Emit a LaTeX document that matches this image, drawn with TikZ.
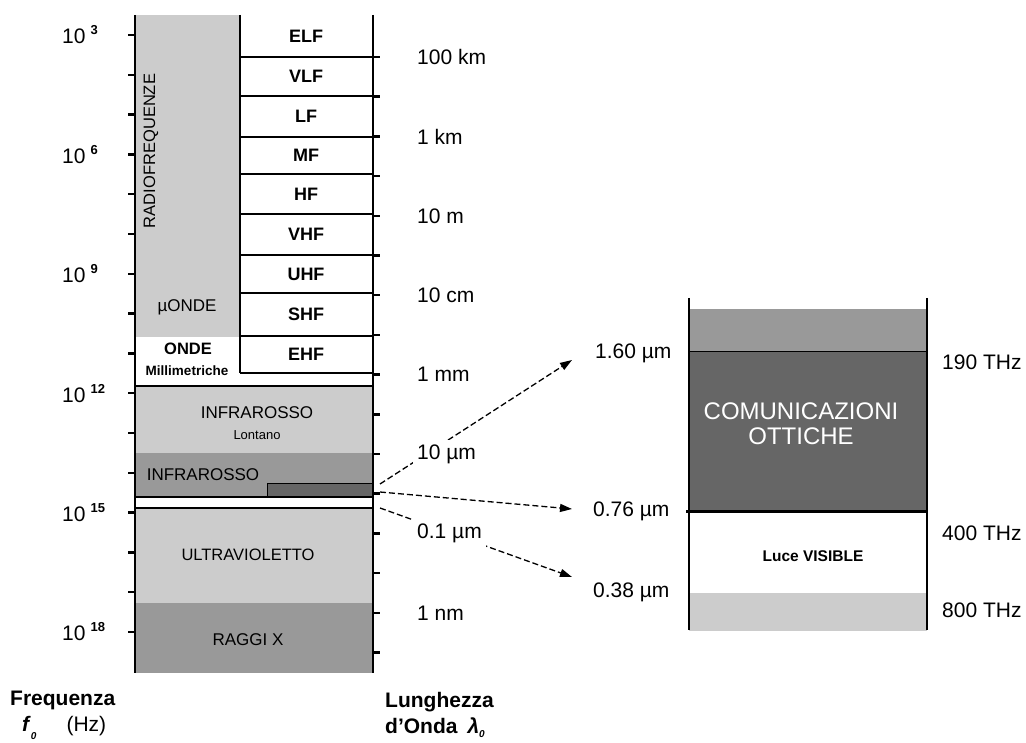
\documentclass[tikz,border=0pt]{standalone}
\usepackage{fontspec}
\setmainfont{Liberation Sans}
\usepackage{tikz}
\usetikzlibrary{arrows.meta}
\definecolor{lgrey}{HTML}{CCCCCC}
\definecolor{mgrey}{HTML}{999999}
\definecolor{dgrey}{HTML}{666666}
\newcommand{\expo}[1]{10\hspace{5pt}\raisebox{9pt}{\fontsize{13}{13}\selectfont\bfseries #1}}

\begin{document}
\begin{tikzpicture}[x=1pt,y=-1pt,
  tick/.style={line width=2.5pt},
  rule/.style={line width=2pt},
  bandlbl/.style={font=\fontsize{18}{18}\selectfont\bfseries},
  reglbl/.style={font=\fontsize{17}{17}\selectfont},
  axlbl/.style={font=\fontsize{21}{21}\selectfont,anchor=west,inner sep=2pt},
  ttl/.style={font=\fontsize{21}{21}\selectfont\bfseries,anchor=west,inner sep=0pt},
  dasharr/.style={-{Triangle[length=12pt,width=8pt]},line width=1.3pt,dash pattern=on 6pt off 3pt}]
  \useasboundingbox (0,0) rectangle (1026,743);
  % spectrum column
  \fill[lgrey] (135,15) rectangle (240,337);
  \fill[lgrey] (135,386) rectangle (373,453);
  \fill[mgrey] (135,453) rectangle (373,497);
  \filldraw[fill=dgrey,draw=black,line width=1pt] (373,483) -- (267,483) -- (267,497) -- (373,497);
  \fill[lgrey] (135,508) rectangle (373,603);
  \fill[mgrey] (135,603) rectangle (373,673);
  \foreach \b/\ya/\yb in {ELF/15/57,VLF/57/96,LF/96/137,MF/137/174,HF/174/214,
      VHF/214/255,UHF/255/293,SHF/293/336,EHF/336/373}{
    \draw[rule] (240,\yb) -- (373,\yb);
    \node[bandlbl] (\b) at (306,{(\ya+\yb)/2}) {\b};
  }
  \draw[rule] (240,15) -- (240,373);
  \draw[rule] (135,386) -- (373,386);
  \draw[line width=2.5pt] (135,497) -- (373,497);
  \draw[line width=2.5pt] (135,508) -- (373,508);
  \draw[rule] (135,15) -- (135,673);
  \draw[rule] (373,15) -- (373,673);
  \foreach \k in {0,...,15}{
    \draw[tick] (128,{35+39.8*\k}) -- (135,{35+39.8*\k});
    \draw[tick] (373,{57+39.7*\k}) -- (380,{57+39.7*\k});
  }
  % region names
  \node[font=\fontsize{16.5}{16.5}\selectfont,rotate=90] (rf) at (151,151) {RADIOFREQUENZE};
  \node[font=\fontsize{17}{17}\selectfont] (mu) at (187,307) {µONDE};
  \node[font=\fontsize{16.5}{16.5}\selectfont\bfseries] (mm) at (188,349) {ONDE};
  \node[font=\fontsize{13.5}{13.5}\selectfont\bfseries] (mmb) at (187,371) {Millimetriche};
  \node[reglbl] (irl) at (257,413) {INFRAROSSO};
  \node[font=\fontsize{13}{13}\selectfont] (lont) at (257,435) {Lontano};
  \node[reglbl] (ir) at (203,475) {INFRAROSSO};
  \node[font=\fontsize{16.5}{16.5}\selectfont] (uv) at (248,555) {ULTRAVIOLETTO};
  \node[reglbl] (xr) at (248,640) {RAGGI X};
  % exponents and wavelengths
  \foreach \e [count=\i from 0] in {3,6,9,12,15,18}
    \node[font=\fontsize{21}{21}\selectfont,anchor=west,inner sep=0pt] (f\e) at (62,{35+119.4*\i}) {\expo{\e}};
  \foreach \w [count=\i from 0] in {100 km,1 km,10 m,10 cm,1 mm}
    \node[axlbl] (w\i) at (415,{57+79.4*\i}) {\w};
  % optical window
  \fill[mgrey] (689,309) rectangle (927,352);
  \fill[dgrey] (689,352) rectangle (927,511);
  \draw[line width=1pt] (689,352) -- (927,352);
  \fill[lgrey] (689,593) rectangle (927,631);
  \draw[rule] (689,298) -- (689,630);
  \draw[rule] (927,298) -- (927,630);
  \draw[line width=3pt] (686,511) -- (927,511);
  \node[white,font=\fontsize{24}{25}\selectfont,align=center] (com) at (801,424) {COMUNICAZIONI\\OTTICHE};
  \node[font=\fontsize{15.5}{15.5}\selectfont\bfseries] (vis) at (813,556) {Luce VISIBLE};
  \node[axlbl] (l160) at (593,353) {1.60 µm};
  \node[axlbl] (l076) at (591,511) {0.76 µm};
  \node[axlbl] (l038) at (591,592) {0.38 µm};
  \node[axlbl] (t190) at (940,362) {190 THz};
  \node[axlbl] (t400) at (940,533) {400 THz};
  \node[axlbl] (t800) at (940,610) {800 THz};
  % arrows
  \coordinate (s1) at (380,484);
  \coordinate (s2) at (380,492);
  \coordinate (s3) at (380,508);
  \coordinate (e1) at (572,360);
  \coordinate (e2) at (572,509);
  \coordinate (e3) at (572,577);
  \draw[dasharr] (s1) -- (e1);
  \draw[dasharr] (s2) -- (e2);
  \draw[dasharr] (s3) -- (e3);
  \node[axlbl,fill=white,inner sep=4pt] (w5) at (413,454) {10 µm};
  \node[axlbl,fill=white,inner sep=4pt] (w6) at (413,533) {0.1 µm};
  \node[axlbl] (w7) at (415,613) {1 nm};
  % axis titles
  \node[ttl] (freq) at (10,700) {Frequenza};
  \node[ttl] (fhz) at (22,728) {\textit{f}\raisebox{-8pt}{\fontsize{10}{10}\selectfont\textit{0}}\hspace{30pt}\mdseries(Hz)};
  \node[ttl] (lung) at (385,702) {Lunghezza};
  \node[ttl] (onda) at (385,728) {d'Onda\hspace{10pt}\textit{λ}\raisebox{-4pt}{\fontsize{10}{10}\selectfont\textit{0}}};
\end{tikzpicture}
\end{document}
